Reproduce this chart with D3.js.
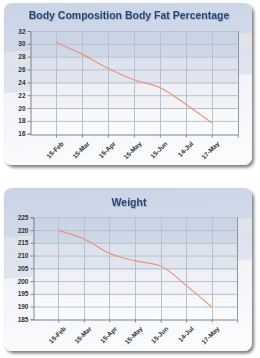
<!DOCTYPE html>
<html>
<head>
<meta charset="utf-8">
<script src="https://cdn.jsdelivr.net/npm/d3@7"></script>
<style>
  body { margin: 0; background: #fff; }
  svg { display: block; font-family: "Liberation Sans", Arial, sans-serif; }
</style>
</head>
<body>
<script>
// dates as printed under the x axis
const dates = ["15-Feb", "15-Mar", "15-Apr", "15-May", "15-Jun", "14-Jul", "17-May"];
const bodyFat = [30.2, 28.4, 26.2, 24.4, 23.2, 20.6, 17.7];
const weight = [219.8, 216.6, 210.9, 207.9, 205.9, 198.3, 189.8];
const fatTicks = [16, 18, 20, 22, 24, 26, 28, 30, 32];
const weightTicks = [185, 190, 195, 200, 205, 210, 215, 220, 225];

const W = 260, H = 358;

const svg = d3.select("body").append("svg")
    .attr("width", W)
    .attr("height", H);

const defs = svg.append("defs");

defs.append("filter")
    .attr("id", "shadow")
    .attr("x", "-5%").attr("y", "-5%").attr("width", "115%").attr("height", "115%")
  .append("feDropShadow")
    .attr("dx", 2).attr("dy", 2.5)
    .attr("stdDeviation", 1.6)
    .attr("flood-color", "#000")
    .attr("flood-opacity", 0.5);

defs.append("filter")
    .attr("id", "tshadow")
  .append("feDropShadow")
    .attr("dx", 0.6).attr("dy", 0.8)
    .attr("stdDeviation", 0.4)
    .attr("flood-color", "#8a9ab0")
    .attr("flood-opacity", 0.8);

// panel backdrop: banded "glossy" gradient, bands slope a little to the right
function bandGradient(id, stops, x2) {
    const g = defs.append("linearGradient")
        .attr("id", id)
        .attr("x1", 0).attr("y1", 0)
        .attr("x2", x2).attr("y2", 1);
    stops.forEach(s => {
        g.append("stop").attr("offset", s[0]).attr("stop-color", s[1]);
    });
}

bandGradient("panelBg", [
    [0, "#c9d4e5"], [0.30, "#d0d9e8"],
    [0.30, "#e1e3e9"], [0.38, "#e1e3e9"],
    [0.38, "#dce3ee"], [0.55, "#dfe5ef"],
    [0.55, "#f2f4f8"], [0.8, "#f6f7fa"],
    [1, "#fafbfd"]
], 0.12);

bandGradient("plotBg", [
    [0, "#c9d3e4"], [0.255, "#ced8e7"],
    [0.255, "#dbe2ed"], [0.52, "#e1e6f0"],
    [0.52, "#eef0f5"], [0.77, "#f2f3f7"],
    [0.77, "#fbfbfd"], [0.8, "#f3f4f7"],
    [0.8, "#f8f9fb"], [1, "#fafbfc"]
], 0);

function drawChart(cfg) {
    const g = svg.append("g");

    g.append("rect")
        .attr("x", cfg.panel[0]).attr("y", cfg.panel[1])
        .attr("width", cfg.panel[2]).attr("height", cfg.panel[3])
        .attr("rx", 8).attr("ry", 8)
        .attr("fill", "url(#panelBg)")
        .attr("filter", "url(#shadow)");

    g.append("text")
        .attr("x", cfg.panel[0] + cfg.panel[2] / 2 + 1)
        .attr("y", cfg.titleY)
        .attr("text-anchor", "middle")
        .attr("font-size", 10.5)
        .attr("font-weight", "bold")
        .attr("fill", "#24467a")
        .attr("filter", "url(#tshadow)")
        .text(cfg.title);

    const [x0, x1] = cfg.xr;
    const [yTop, yBot] = cfg.yr;

    // categories sit on slots 1..7 of an 8-slot axis
    const x = d3.scaleLinear().domain([0, dates.length + 1]).range([x0, x1]);
    const y = d3.scaleLinear().domain(cfg.yDomain).range([yBot, yTop]);

    g.append("rect")
        .attr("x", x0).attr("y", yTop)
        .attr("width", x1 - x0).attr("height", yBot - yTop)
        .attr("fill", "url(#plotBg)");

    // grid
    g.selectAll(".hg").data(cfg.ticks.slice(1)).enter().append("line")
        .attr("x1", x0).attr("x2", x1)
        .attr("y1", d => y(d) + 0.5).attr("y2", d => y(d) + 0.5)
        .attr("stroke", "#b9c1cd").attr("stroke-width", 1);

    g.selectAll(".vg").data(d3.range(1, dates.length + 2)).enter().append("line")
        .attr("x1", d => Math.round(x(d)) + 0.5).attr("x2", d => Math.round(x(d)) + 0.5)
        .attr("y1", yTop).attr("y2", yBot)
        .attr("stroke", d => d === dates.length + 1 ? "#8e96a2" : "#b9c1cd")
        .attr("stroke-width", 1);

    const yAxis = d3.axisLeft(y).tickValues(cfg.ticks).tickSize(3).tickPadding(2);
    const ya = g.append("g")
        .attr("transform", `translate(${Math.round(x0) + 0.5},0)`)
        .call(yAxis);
    ya.select(".domain").attr("stroke", "#7d8590");
    ya.selectAll(".tick line").attr("stroke", "#7d8590");
    ya.selectAll("text")
        .attr("font-size", 6.5).attr("font-weight", "bold")
        .attr("fill", "#333").attr("font-family", "Liberation Sans, Arial, sans-serif");

    const xAxis = d3.axisBottom(x)
        .tickValues(d3.range(1, dates.length + 2))
        .tickFormat(d => dates[d - 1] || "")
        .tickSize(3).tickSizeOuter(0).tickPadding(3);
    const xa = g.append("g")
        .attr("transform", `translate(0,${Math.round(yBot) + 0.5})`)
        .call(xAxis);
    xa.select(".domain").attr("stroke", "#7d8590");
    xa.selectAll(".tick line").attr("stroke", "#7d8590");
    xa.selectAll("text")
        .attr("font-size", 6.5).attr("font-weight", "bold")
        .attr("fill", "#333").attr("font-family", "Liberation Sans, Arial, sans-serif")
        .attr("text-anchor", "end")
        .attr("dy", "0.3em")
        .attr("transform", "translate(2,4) rotate(-45)");

    const line = d3.line()
        .x((d, i) => x(i + 1))
        .y(d => y(d))
        .curve(d3.curveMonotoneX);

    g.append("path")
        .datum(cfg.values)
        .attr("d", line)
        .attr("fill", "none")
        .attr("stroke", "#ec9478")
        .attr("stroke-width", 1.2);
}

drawChart({
    title: "Body Composition Body Fat Percentage",
    values: bodyFat,
    ticks: fatTicks,
    yDomain: [16, 32],
    panel: [4, 3, 248, 162],
    titleY: 19,
    xr: [30, 237.7],
    yr: [31, 133.7]
});

drawChart({
    title: "Weight",
    values: weight,
    ticks: weightTicks,
    yDomain: [185, 225],
    panel: [4, 188, 248, 163],
    titleY: 206,
    xr: [32.7, 237.3],
    yr: [217.3, 319.3]
});
</script>
</body>
</html>
